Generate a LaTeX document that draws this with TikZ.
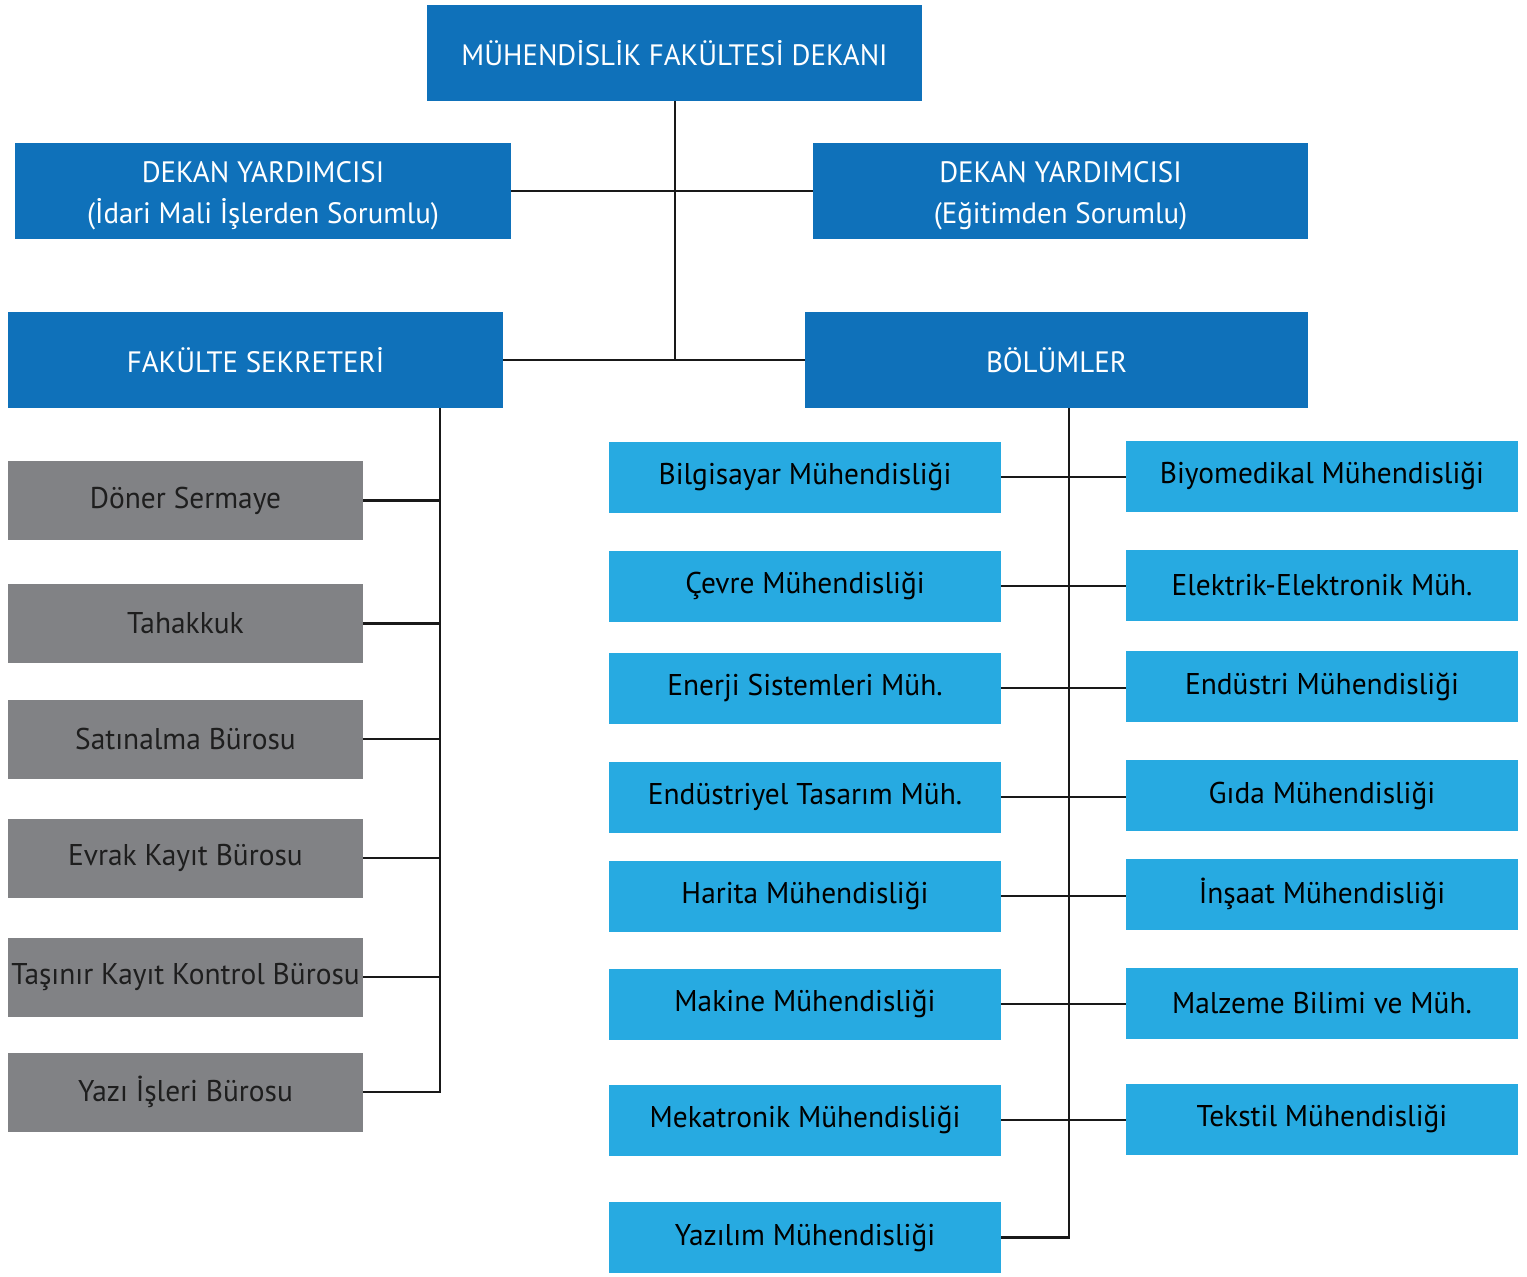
\documentclass[tikz,border=0pt]{standalone}
\usepackage{fontspec}
\setmainfont[FakeStretch=0.98]{PT Sans}
\definecolor{dblue}{HTML}{0F71BA}
\definecolor{lblue}{HTML}{27AAE1}
\definecolor{gbox}{HTML}{818285}
\definecolor{gtext}{HTML}{1E1E1E}
\begin{document}
\begin{tikzpicture}[x=1pt,y=-1pt,
  top/.style={fill=dblue,text=white,inner sep=0pt,align=center,font=\fontsize{29.5}{41}\selectfont},
  off/.style={fill=gbox,text=gtext,inner sep=0pt,minimum width=355pt,minimum height=79pt,font=\fontsize{30}{32}\selectfont},
  dep/.style={fill=lblue,text=black,inner sep=0pt,minimum width=392pt,minimum height=71pt,font=\fontsize{30}{32}\selectfont},
  conn/.style={line width=2.6pt,black!90}]
\useasboundingbox (0,0) rectangle (1527,1277);
\fill[white] (0,0) rectangle (1527,1277);
% top level
\node[top,minimum width=495pt,minimum height=96pt] (dean) at (674.5,53) {MÜHENDİSLİK FAKÜLTESİ DEKANI};
\node[top,minimum width=496pt,minimum height=96pt] (dyl) at (263,191) {\rule{0pt}{30pt}DEKAN YARDIMCISI\\(İdari Mali İşlerden Sorumlu)};
\node[top,minimum width=495pt,minimum height=96pt] (dyr) at (1060.5,191) {\rule{0pt}{30pt}DEKAN YARDIMCISI\\(Eğitimden Sorumlu)};
\node[top,minimum width=495pt,minimum height=96pt] (fs) at (255.5,360) {FAKÜLTE SEKRETERİ};
\node[top,minimum width=503pt,minimum height=96pt] (bol) at (1056.5,360) {BÖLÜMLER};
\coordinate (hub) at (675,360);
\draw[conn] (dean.south -| hub) -- (hub);
\draw[conn] (dyl.east) -- (dyr.west);
\draw[conn] (fs.east) -- (bol.west);
% office column
\node[off] (o1) at (185.5,500.5) {Döner Sermaye};
\node[off] (o2) at (185.5,623.5) {Tahakkuk};
\node[off] (o3) at (185.5,739) {Satınalma Bürosu};
\node[off] (o4) at (185.5,858) {Evrak Kayıt Bürosu};
\node[off] (o5) at (185.5,977) {Taşınır Kayıt Kontrol Bürosu};
\node[off] (o6) at (185.5,1092) {Yazı İşleri Bürosu};
\coordinate (obus) at (440,408);
\draw[conn] (fs.south -| obus) -- (o6.east -| obus) -- (o6.east);
\foreach \i in {1,...,5} \draw[conn] (o\i.east) -- (o\i.east -| obus);
% departments
\node[dep] (l1) at (805,477) {Bilgisayar Mühendisliği};
\node[dep] (l2) at (805,586) {Çevre Mühendisliği};
\node[dep] (l3) at (805,688) {Enerji Sistemleri Müh.};
\node[dep] (l4) at (805,797) {Endüstriyel Tasarım Müh.};
\node[dep] (l5) at (805,896) {Harita Mühendisliği};
\node[dep] (l6) at (805,1004) {Makine Mühendisliği};
\node[dep] (l7) at (805,1120) {Mekatronik Mühendisliği};
\node[dep] (l8) at (805,1237.5) {Yazılım Mühendisliği};
\node[dep] (r1) at (1322,476) {Biyomedikal Mühendisliği};
\node[dep] (r2) at (1322,585) {Elektrik-Elektronik Müh.};
\node[dep] (r3) at (1322,686.5) {Endüstri Mühendisliği};
\node[dep] (r4) at (1322,795.5) {Gıda Mühendisliği};
\node[dep] (r5) at (1322,894) {İnşaat Mühendisliği};
\node[dep] (r6) at (1322,1003) {Malzeme Bilimi ve Müh.};
\node[dep] (r7) at (1322,1119) {Tekstil Mühendisliği};
\coordinate (dbus) at (1069,408);
\draw[conn] (bol.south -| dbus) -- (l8.east -| dbus) -- (l8.east);
\foreach \i in {1,...,7} \draw[conn] (l\i.east) -- (l\i.east -| r\i.west);
\end{tikzpicture}
\end{document}
